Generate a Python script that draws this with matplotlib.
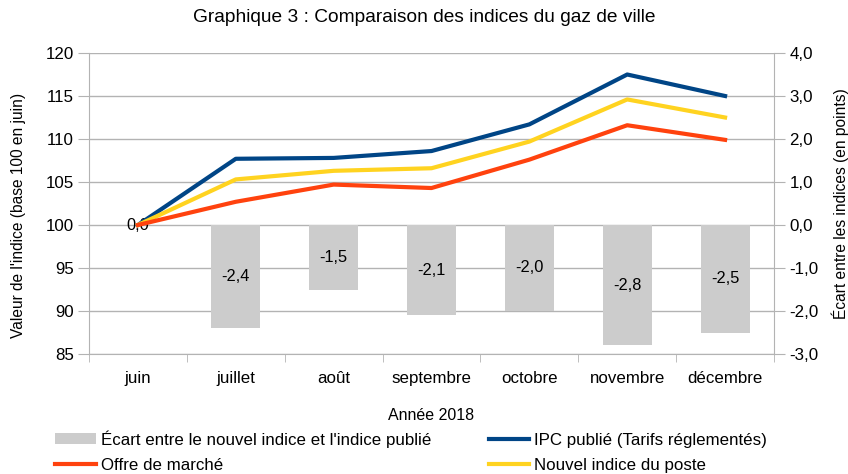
import numpy as np
import matplotlib
matplotlib.use("Agg")
import matplotlib.pyplot as plt
from matplotlib.ticker import FuncFormatter, FixedLocator

plt.rcParams['font.family'] = ['Liberation Sans', 'DejaVu Sans']

mois = ['juin', 'juillet', 'août', 'septembre', 'octobre', 'novembre', 'décembre']
ipc_publie = [100, 107.7, 107.8, 108.6, 111.7, 117.5, 115.0]
nouvel_indice = [100, 105.3, 106.3, 106.6, 109.7, 114.6, 112.5]
offre_marche = [100, 102.7, 104.7, 104.3, 107.6, 111.6, 109.9]
ecart = [0.0, -2.4, -1.5, -2.1, -2.0, -2.8, -2.5]

c_blue = '#004586'
c_red = '#ff420e'
c_yellow = '#ffd320'
c_gray = '#cccccc'
c_grid = '#b3b3b3'
fs = 12.2

fig = plt.figure(figsize=(8.48, 4.74), dpi=100)
ax = fig.add_axes([89/848, 1-354/474, (774-89)/848, (354-53)/474])
ax2 = ax.twinx()
ax.set_zorder(2)
ax2.set_zorder(1)
ax.patch.set_visible(False)

x = np.arange(len(mois))

# barres (axe de droite)
bars = ax2.bar(x, ecart, width=0.5, color=c_gray, zorder=2,
               label="Écart entre le nouvel indice et l'indice publié")
ax2.bar_label(bars, labels=[('%.1f' % v).replace('.', ',') for v in ecart],
              label_type='center', fontsize=11.8, zorder=3)
ax2.set_ylim(-3, 4)
ax2.set_yticks(np.arange(-3, 5, 1))
ax2.yaxis.set_major_formatter(FuncFormatter(lambda v, p: ('%.1f' % v).replace('.', ',')))
ax2.grid(axis='y', color=c_grid, lw=1, zorder=0)
ax2.set_axisbelow(True)
ax2.set_ylabel('Écart entre les indices (en points)', fontsize=11.2, va='center')
ax2.yaxis.set_label_coords((840-89)/685, 0.5)

# courbes (axe de gauche)
l_ipc, = ax.plot(x, ipc_publie, color=c_blue, lw=3, label='IPC publié (Tarifs réglementés)')
l_off, = ax.plot(x, offre_marche, color=c_red, lw=3, label='Offre de marché')
l_nou, = ax.plot(x, nouvel_indice, color=c_yellow, lw=3, label='Nouvel indice du poste')
l_nou.set_zorder(2.1)
l_off.set_zorder(2.2)
ax.set_ylim(85, 120)
ax.set_yticks(np.arange(85, 121, 5))
ax.set_xlim(-0.5, len(mois) - 0.5)
ax.set_xticks(x)
ax.set_xticklabels(mois)
ax.xaxis.set_minor_locator(FixedLocator(np.arange(-0.5, len(mois), 1)))
ax.tick_params(axis='x', which='major', length=0, pad=12, labelsize=fs)
ax.tick_params(axis='x', which='minor', length=6, color=c_grid)
ax.tick_params(axis='y', length=8, color=c_grid, labelsize=fs, pad=3)
ax2.tick_params(axis='y', length=8, color=c_grid, labelsize=fs, pad=3)
ax2.tick_params(axis='x', length=0)
ax.set_ylabel("Valeur de l'indice (base 100 en juin)", fontsize=11.2, va='center')
ax.yaxis.set_label_coords((19-89)/685, (354-215)/301)
ax.set_xlabel('Année 2018', fontsize=11.5, labelpad=16)

for a in (ax, ax2):
    a.spines['top'].set_visible(False)
    for s in ('left', 'right', 'bottom'):
        a.spines[s].set_color(c_grid)
ax2.spines['left'].set_visible(False)
ax.spines['right'].set_visible(False)
ax2.spines['bottom'].set_visible(False)

fig.text(0.5, 1 - 18/474, 'Graphique 3 : Comparaison des indices du gaz de ville',
         ha='center', va='center', fontsize=13.8)

handles = [bars, l_off, l_ipc, l_nou]
fig.legend(handles, [h.get_label() for h in handles], ncol=2, frameon=False,
           loc='upper left', bbox_to_anchor=(55/848, 1 - 430/474),
           fontsize=fs, handlelength=2.4, handleheight=0.6, handletextpad=0.3,
           columnspacing=3.4, labelspacing=0.62, borderpad=0, borderaxespad=0)

fig.savefig('out.png', dpi=100)
